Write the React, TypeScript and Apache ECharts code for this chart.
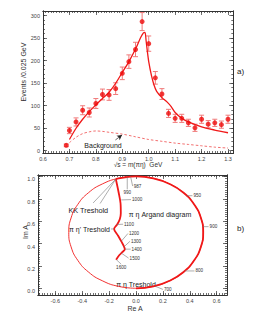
import React, { useEffect, useRef } from "react";
import * as echarts from "echarts";

// ---------- Panel a) data ----------
const massBins = [0.688, 0.7, 0.725, 0.75, 0.775, 0.8, 0.825, 0.85, 0.875, 0.9, 0.925, 0.95, 0.975, 1.0, 1.025, 1.05, 1.075, 1.1, 1.125, 1.15, 1.175, 1.2, 1.225, 1.25, 1.275, 1.3];
const events = [12, 45, 64, 90, 85, 105, 125, 124, 138, 172, 198, 225, 287, 238, 162, 126, 83, 72, 72, 62, 51, 70, 59, 62, 58, 70];
const eventErrors = [3, 7, 9, 10, 10, 11, 12, 12, 13, 14, 15, 16, 20, 17, 14, 12, 9, 9, 9, 8, 8, 9, 8, 8, 8, 9];

const fitX = [0.7, 0.725, 0.75, 0.775, 0.8, 0.825, 0.85, 0.875, 0.9, 0.925, 0.95, 0.97, 0.98, 0.986, 0.99, 0.995, 1.0, 1.01, 1.02, 1.03, 1.05, 1.07, 1.085, 1.1, 1.125, 1.15, 1.2, 1.25, 1.3];
const fitY = [25, 50, 70, 87, 102, 116, 130, 150, 174, 198, 226, 252, 262, 263, 245, 220, 198, 168, 146, 132, 118, 108, 98, 85, 72, 64, 53, 46, 40];

const bgX = [0.7, 0.725, 0.75, 0.775, 0.8, 0.825, 0.85, 0.9, 0.95, 1.0, 1.05, 1.1, 1.15, 1.2, 1.25, 1.3];
const bgY = [18, 30, 38, 42, 44, 43, 41, 37, 31, 25, 21, 17, 14, 11, 8, 6];

const bgArrowFrom = [0.874, 24];
const bgArrowTo = [0.899, 35];

const topXTicks = [0.6, 0.7, 0.8, 0.9, 1.0, 1.1, 1.2, 1.3];
const topYTicks = [0, 50, 100, 150, 200, 250, 300];

// ---------- Panel b) data ----------
const unitCircle = [
  [0, 0], [0.129, 0.017], [0.25, 0.067], [0.354, 0.146], [0.433, 0.25], [0.483, 0.371],
  [0.5, 0.5], [0.483, 0.629], [0.433, 0.75], [0.354, 0.854], [0.25, 0.933], [0.129, 0.983],
  [0, 1.0], [-0.129, 0.983], [-0.25, 0.933], [-0.354, 0.854], [-0.433, 0.75], [-0.483, 0.629],
  [-0.5, 0.5], [-0.483, 0.371], [-0.433, 0.25], [-0.354, 0.146], [-0.25, 0.067], [-0.129, 0.017], [0, 0],
];
const outerArc = [
  [0, 0], [0.129, 0.017], [0.25, 0.067], [0.354, 0.146], [0.433, 0.25], [0.483, 0.371],
  [0.5, 0.5], [0.483, 0.629], [0.433, 0.75], [0.354, 0.854], [0.25, 0.933], [0.129, 0.983],
  [0, 1.0], [-0.129, 0.983], [-0.15, 0.977],
];
const innerPath = [
  [-0.15, 0.977], [-0.128, 0.85], [-0.115, 0.76], [-0.113, 0.67], [-0.12, 0.62], [-0.14, 0.57],
  [-0.163, 0.531], [-0.133, 0.47], [-0.105, 0.41], [-0.089, 0.373], [-0.083, 0.35], [-0.1, 0.325],
  [-0.125, 0.295], [-0.148, 0.255],
];
const energyLabels = ["700", "800", "900", "950", "987", "990", "1000", "1100", "1200", "1300", "1400", "1500", "1600"];
const energyLeaders = [
  [0.14, 0.02, 0.2, -0.01],
  [0.362, 0.155, 0.435, 0.155],
  [0.497, 0.551, 0.54, 0.551],
  [0.377, 0.828, 0.42, 0.828],
  [-0.04, 0.998, -0.025, 0.914],
  [-0.065, 0.996, -0.065, 0.885],
  [-0.11, 0.79, -0.037, 0.793],
  [-0.145, 0.57, -0.096, 0.573],
  [-0.11, 0.42, -0.06, 0.49],
  [-0.09, 0.37, -0.045, 0.42],
  [-0.083, 0.35, -0.04, 0.35],
  [-0.11, 0.315, -0.055, 0.27],
  [-0.145, 0.255, -0.11, 0.215],
];
const energyLabelSide = ["r", "r", "r", "r", "r", "b", "r", "r", "r", "r", "r", "r", "b"];
const thresholdLeaders = [
  [-0.319, 0.763, -0.15, 0.977],
  [-0.267, 0.758, -0.15, 0.977],
  [-0.186, 0.53, -0.163, 0.531],
];

const botXTicks = [-0.6, -0.4, -0.2, 0, 0.2, 0.4, 0.6];
const botYTicks = [0, 0.2, 0.4, 0.6, 0.8, 1.0];

function range(a: number, b: number, step: number): number[] {
  const out: number[] = [];
  const n = Math.round((b - a) / step);
  for (let i = 0; i <= n; i++) out.push(+(a + i * step).toFixed(6));
  return out;
}

const FONT = "Liberation Sans, Arial, sans-serif";
const RED = "#f01818";
const FRAME = "#333";

function mkAxis(gridIndex: number, position: string, min: number, max: number, ticks: number[], len: number, labels: boolean, fmt?: (v: number) => string, vAlign?: string) {
  return {
    type: "value",
    gridIndex,
    position,
    min,
    max,
    axisLine: { show: true, onZero: false, lineStyle: { color: FRAME, width: 1 } },
    axisTick: { show: true, inside: true, length: len, customValues: ticks, lineStyle: { color: FRAME, width: 0.7 } },
    axisLabel: labels
      ? { show: true, customValues: ticks, formatter: fmt, fontSize: 5.5, color: "#444", fontFamily: FONT, margin: 3, verticalAlign: vAlign }
      : { show: false },
    splitLine: { show: false },
  };
}

export default function App() {
  const ref = useRef<HTMLDivElement>(null);
  useEffect(() => {
    if (!ref.current) return;
    const chart = echarts.init(ref.current, undefined, { renderer: "svg" });

    const topXMinor = range(0.6, 1.32, 0.01);
    const topYMinor = range(0, 310, 10);
    const botXMinor = range(-0.72, 0.66, 0.02);
    const botYMinor = range(-0.04, 1.0, 0.02);

    const f1 = (v: number) => v.toFixed(1);
    const f0 = (v: number) => String(Math.round(v));

    const xAxis = [
      mkAxis(0, "bottom", 0.6, 1.32, topXTicks, 4, true, f1),
      mkAxis(0, "bottom", 0.6, 1.32, topXMinor, 2, false),
      mkAxis(0, "top", 0.6, 1.32, topXTicks, 4, false),
      mkAxis(0, "top", 0.6, 1.32, topXMinor, 2, false),
      mkAxis(1, "bottom", -0.729, 0.677, botXTicks, 4, true, f1),
      mkAxis(1, "bottom", -0.729, 0.677, botXMinor, 2, false),
      mkAxis(1, "top", -0.729, 0.677, botXTicks, 4, false),
      mkAxis(1, "top", -0.729, 0.677, botXMinor, 2, false),
    ];
    const yAxis = [
      mkAxis(0, "left", -5, 310.5, topYTicks, 4, true, f0),
      mkAxis(0, "left", -5, 310.5, topYMinor, 2, false),
      mkAxis(0, "right", -5, 310.5, topYTicks, 4, false),
      mkAxis(0, "right", -5, 310.5, topYMinor, 2, false),
      mkAxis(1, "left", -0.06, 1.013, botYTicks, 4, true, f1, "top"),
      mkAxis(1, "left", -0.06, 1.013, botYMinor, 2, false),
      mkAxis(1, "right", -0.06, 1.013, botYTicks, 4, false),
      mkAxis(1, "right", -0.06, 1.013, botYMinor, 2, false),
    ];

    const errData = massBins.map((x, i) => [x, events[i] - eventErrors[i], events[i] + eventErrors[i]]);
    const leaderAll = energyLeaders.map((l) => l.slice());

    const option: any = {
      animation: false,
      grid: [
        { left: 43, top: 11, width: 190.3, height: 142 },
        { left: 38, top: 175, width: 189, height: 120 },
      ],
      xAxis,
      yAxis,
      series: [
        {
          type: "custom",
          xAxisIndex: 0,
          yAxisIndex: 0,
          data: errData,
          z: 2,
          renderItem: (params: any, api: any) => {
            const x = api.value(0);
            const p1 = api.coord([x, api.value(1)]);
            const p2 = api.coord([x, api.value(2)]);
            const st = { stroke: "#f07a7a", lineWidth: 1 };
            return {
              type: "group",
              children: [
                { type: "line", shape: { x1: p1[0], y1: p1[1], x2: p2[0], y2: p2[1] }, style: st },
                { type: "line", shape: { x1: p1[0] - 2.5, y1: p1[1], x2: p1[0] + 2.5, y2: p1[1] }, style: st },
                { type: "line", shape: { x1: p2[0] - 2.5, y1: p2[1], x2: p2[0] + 2.5, y2: p2[1] }, style: st },
              ],
            };
          },
        },
        {
          type: "line",
          xAxisIndex: 0,
          yAxisIndex: 0,
          data: fitX.map((x, i) => [x, fitY[i]]),
          showSymbol: false,
          smooth: 0.25,
          lineStyle: { color: RED, width: 1.3 },
          z: 3,
        },
        {
          type: "line",
          xAxisIndex: 0,
          yAxisIndex: 0,
          data: bgX.map((x, i) => [x, bgY[i]]),
          showSymbol: false,
          smooth: 0.3,
          lineStyle: { color: "#f06060", width: 0.9, type: [2.5, 2] },
          z: 3,
          markLine: {
            silent: true,
            symbol: ["none", "arrow"],
            symbolSize: [4, 5],
            label: { show: false },
            lineStyle: { color: "#222", width: 0.7, type: "solid" },
            data: [[{ coord: bgArrowFrom }, { coord: bgArrowTo }]],
          },
        },
        {
          type: "scatter",
          xAxisIndex: 0,
          yAxisIndex: 0,
          data: massBins.map((x, i) => [x, events[i]]),
          symbol: "circle",
          symbolSize: 5,
          itemStyle: { color: "#ee0a0a" },
          z: 4,
        },
        {
          type: "line",
          xAxisIndex: 4,
          yAxisIndex: 4,
          data: unitCircle,
          showSymbol: false,
          smooth: true,
          lineStyle: { color: RED, width: 0.9 },
          z: 3,
        },
        {
          type: "line",
          xAxisIndex: 4,
          yAxisIndex: 4,
          data: outerArc,
          showSymbol: false,
          smooth: true,
          lineStyle: { color: RED, width: 1.8 },
          z: 3,
        },
        {
          type: "line",
          xAxisIndex: 4,
          yAxisIndex: 4,
          data: innerPath,
          showSymbol: false,
          smooth: 0.3,
          lineStyle: { color: RED, width: 1.8 },
          z: 3,
        },
        {
          type: "custom",
          xAxisIndex: 4,
          yAxisIndex: 4,
          data: leaderAll,
          z: 4,
          renderItem: (params: any, api: any) => {
            const i = params.dataIndex;
            const s = api.coord([api.value(0), api.value(1)]);
            const e = api.coord([api.value(2), api.value(3)]);
            const side = energyLabelSide[i];
            const txt =
              side === "r"
                ? { x: e[0] + 1, y: e[1], style: { text: energyLabels[i], fontSize: 4.6, fontFamily: FONT, fill: "#333", align: "left", verticalAlign: "middle" } }
                : { x: e[0], y: e[1] + 0.5, style: { text: energyLabels[i], fontSize: 4.6, fontFamily: FONT, fill: "#333", align: "center", verticalAlign: "top" } };
            return {
              type: "group",
              children: [
                { type: "line", shape: { x1: s[0], y1: s[1], x2: e[0], y2: e[1] }, style: { stroke: "#777", lineWidth: 0.6 } },
                { type: "text", ...txt },
              ],
            };
          },
        },
        {
          type: "custom",
          xAxisIndex: 4,
          yAxisIndex: 4,
          data: thresholdLeaders,
          z: 4,
          renderItem: (params: any, api: any) => {
            const s = api.coord([api.value(0), api.value(1)]);
            const e = api.coord([api.value(2), api.value(3)]);
            return { type: "line", shape: { x1: s[0], y1: s[1], x2: e[0], y2: e[1] }, style: { stroke: "#777", lineWidth: 0.6 } };
          },
        },
      ],
      graphic: [
        { type: "text", x: 23, y: 72, rotation: Math.PI / 2, style: { text: "Events /0.025 GeV", fontSize: 7, fontFamily: FONT, fill: "#333", align: "center", verticalAlign: "middle" } },
        { type: "text", x: 138, y: 164, style: { text: "√s = m(πη)  GeV", fontSize: 6.5, fontFamily: FONT, fill: "#333", align: "center", verticalAlign: "middle" } },
        { type: "text", x: 103, y: 145.5, style: { text: "Background", fontSize: 7, fontFamily: FONT, fill: "#222", align: "center", verticalAlign: "middle" } },
        { type: "text", x: 237, y: 71, style: { text: "a)", fontSize: 8, fontFamily: FONT, fill: "#222", align: "left", verticalAlign: "middle" } },
        { type: "text", x: 237, y: 228, style: { text: "b)", fontSize: 8, fontFamily: FONT, fill: "#222", align: "left", verticalAlign: "middle" } },
        { type: "text", x: 25, y: 232, rotation: Math.PI / 2, style: { text: "Im A", fontSize: 7, fontFamily: FONT, fill: "#333", align: "center", verticalAlign: "middle" } },
        { type: "text", x: 135, y: 308, style: { text: "Re A", fontSize: 7, fontFamily: FONT, fill: "#333", align: "center", verticalAlign: "middle" } },
        { type: "text", x: 88.3, y: 210, style: { text: "KK Treshold", fontSize: 7.3, fontFamily: FONT, fill: "#222", align: "center", verticalAlign: "middle" } },
        { type: "text", x: 160, y: 214.3, style: { text: "π η Argand diagram", fontSize: 7, fontFamily: FONT, fill: "#222", align: "center", verticalAlign: "middle" } },
        { type: "text", x: 110, y: 229, style: { text: "π η' Treshold", fontSize: 7, fontFamily: FONT, fill: "#222", align: "right", verticalAlign: "middle" } },
        { type: "text", x: 136, y: 284.3, style: { text: "π η Treshold", fontSize: 7, fontFamily: FONT, fill: "#222", align: "center", verticalAlign: "middle" } },
      ],
    };
    chart.setOption(option);
    return () => chart.dispose();
  }, []);
  return <div ref={ref} style={{ position: "fixed", left: 0, top: 0, width: 273, height: 327, background: "#fff" }} />;
}
